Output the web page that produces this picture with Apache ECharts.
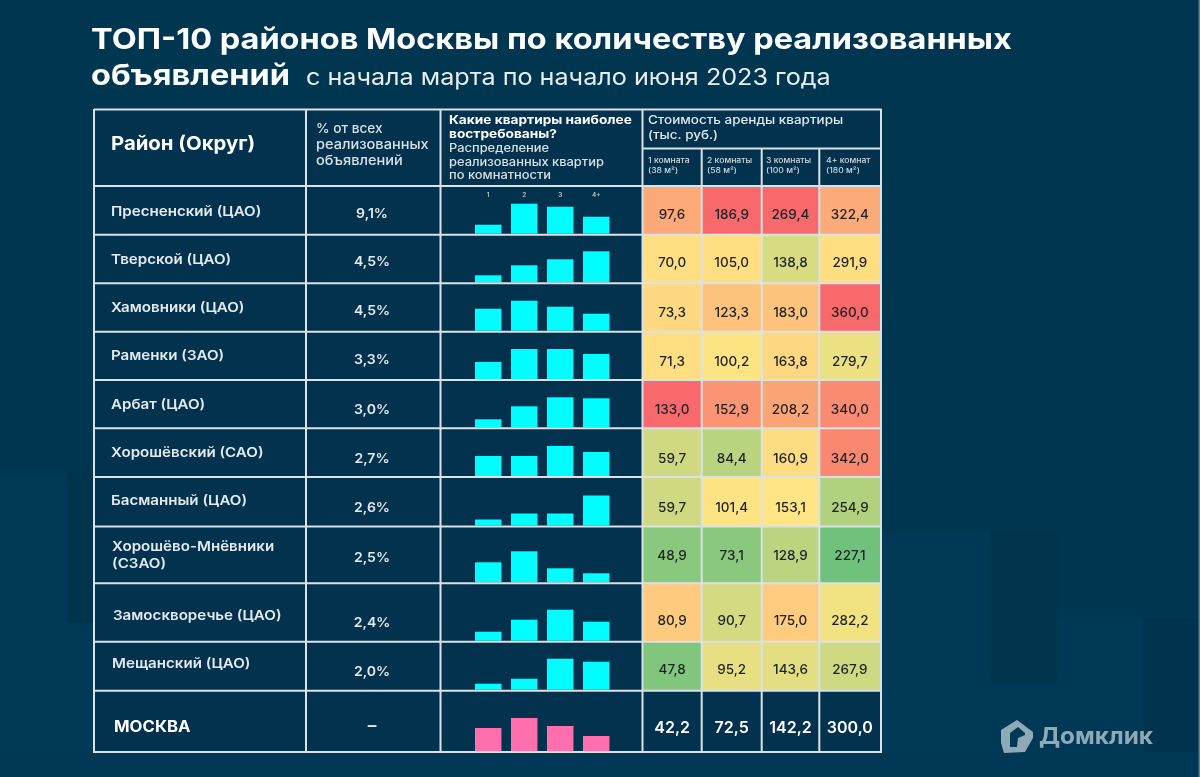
<!DOCTYPE html>
<html>
<head>
<meta charset="utf-8">
<title>ТОП-10 районов Москвы</title>
<script src="https://cdn.jsdelivr.net/npm/echarts@6/dist/echarts.min.js"></script>
<style>
html, body { margin: 0; padding: 0; background: #00364f; }
#main { width: 1200px; height: 777px; }
</style>
</head>
<body>
<div id="main"></div>
<script>
// ---------data
var districts = ['Пресненский (ЦАО)', 'Тверской (ЦАО)', 'Хамовники (ЦАО)', 'Раменки (ЗАО)', 'Арбат (ЦАО)', 'Хорошёвский (САО)', 'Басманный (ЦАО)', 'Хорошёво-Мнёвники\n(СЗАО)', 'Замоскворечье (ЦАО)', 'Мещанский (ЦАО)', 'МОСКВА'];
var shareOfAds = ['9,1%', '4,5%', '4,5%', '3,3%', '3,0%', '2,7%', '2,6%', '2,5%', '2,4%', '2,0%', '–'];
var roomLabels = ['1', '2', '3', '4+'];
var roomsOne = [9, 7, 22, 17, 8, 20, 6, 20, 9, 6, 23];
var roomsTwo = [30, 17, 30, 30, 21, 20, 12, 31, 21, 11, 33];
var roomsThree = [27, 23, 24, 30, 30, 30, 12, 14, 31, 31, 25];
var roomsFour = [17, 31, 17, 25, 29, 24, 30, 9, 19, 28, 15];
var rentOne = [97.6, 70.0, 73.3, 71.3, 133.0, 59.7, 59.7, 48.9, 80.9, 47.8, 42.2];
var rentTwo = [186.9, 105.0, 123.3, 100.2, 152.9, 84.4, 101.4, 73.1, 90.7, 95.2, 72.5];
var rentThree = [269.4, 138.8, 183.0, 163.8, 208.2, 160.9, 153.1, 128.9, 175.0, 143.6, 142.2];
var rentFour = [322.4, 291.9, 360.0, 279.7, 340.0, 342.0, 254.9, 227.1, 282.2, 267.9, 300.0];

var rooms = [roomsOne, roomsTwo, roomsThree, roomsFour];
var rents = [rentOne, rentTwo, rentThree, rentFour];

// ---------color scale of every rent column: green at, yellow at, red at
var rentScale = [[43, 67, 130], [64, 101, 180], [98, 153, 260], [222, 288, 360]];
var scaleGreen = [99, 190, 123], scaleYellow = [255, 229, 131], scaleRed = [248, 105, 107];

function rentColor(col, v) {
    var s = rentScale[col];
    var a, b, t;
    if (v <= s[1]) {
        a = scaleGreen; b = scaleYellow;
        t = Math.max(0, (v - s[0]) / (s[1] - s[0]));
    } else {
        a = scaleYellow; b = scaleRed;
        t = Math.min(1, (v - s[1]) / (s[2] - s[1]));
    }
    return 'rgb(' + Math.round(a[0] + (b[0] - a[0]) * t) + ',' + Math.round(a[1] + (b[1] - a[1]) * t) + ',' + Math.round(a[2] + (b[2] - a[2]) * t) + ')';
}

// ---------table layout, px
var rowLines = [186, 234.7, 283.3, 331.7, 380, 428.3, 477, 526.5, 583.3, 641.7, 690.7, 752];
var colLines = [642.5, 701.7, 761.7, 819.3, 880.5];
var nameY = [212, 260, 308, 356, 405, 453, 501, 547, 616, 664, 727];
var nameX = [111, 111, 111, 111, 111, 111, 111, 112, 113, 112, 114];
var shareY = [214.5, 262.5, 311.5, 360.5, 410.5, 459.5, 508.5, 558.5, 623.5, 672.5, 726];
var rentY = [215, 263, 313, 362, 410, 459, 508, 556, 621, 670, 728.5];
var textFont = 'Inter';
var textScale = 1.12; // Inter is narrower than the font of the picture
var tableBg = '#02324e', lineColor = '#dbe2e7';

var graphics = [];

function addRect(x, y, w, h, color, z) {
    graphics.push({ type: 'rect', z: z || 0, silent: true, shape: { x: x, y: y, width: w, height: h }, style: { fill: color } });
}

function addLine(x1, y1, x2, y2, width) {
    graphics.push({ type: 'line', z: 50, silent: true, shape: { x1: x1, y1: y1, x2: x2, y2: y2 }, style: { stroke: lineColor, lineWidth: width || 2 } });
}

function addText(x, y, text, size, weight, color, align, sx) {
    graphics.push({
        type: 'text', z: 60, silent: true, x: x, y: y, scaleX: sx || textScale,
        style: { text: text, fill: color, font: weight + ' ' + size + 'px ' + textFont, textAlign: align || 'left', textVerticalAlign: 'middle', lineHeight: size * 1.2 }
    });
}

// ---------background shapes
addRect(880, 533, 110, 244, '#003956');
addRect(1058, 618, 85, 159, '#003956');
addRect(990, 533, 68, 150, '#00354e');
addRect(990, 683, 68, 94, '#003956');
addRect(1143, 618, 57, 147, '#00344e');
addRect(0, 473, 67, 304, '#003956');
addRect(67, 473, 27, 150, '#00334c');
addRect(67, 623, 27, 154, '#003956');
addRect(0, 752, 1200, 25, '#003855');
addRect(1198.5, 0, 1.5, 777, '#5f7f90');

// ---------table
addRect(94, 110, 786.5, 642, tableBg);
var i, j;
addLine(94, 109.5, 881.5, 109.5, 2);
addLine(94, 752, 881.5, 752, 2);
addLine(94, 109, 94, 753, 2);
addLine(881, 109, 881, 753, 2);
addLine(306, 109, 306, 753, 2);
addLine(440.5, 109, 440.5, 753, 2);
addLine(642.5, 109, 642.5, 753, 2);
addLine(642.5, 148.5, 881, 148.5, 2);
for (i = 0; i < rowLines.length - 1; i++) {
    addLine(94, rowLines[i], 881, rowLines[i], 2);
}
for (j = 1; j < colLines.length - 1; j++) {
    addLine(colLines[j], 148.5, colLines[j], 753, 2);
}

// ---------titles
addText(91, 40, 'ТОП-10 районов Москвы по количеству реализованных', 29, 'bold', '#ffffff');
addText(91, 76.5, 'объявлений', 29, 'bold', '#ffffff');
addText(306, 78.5, 'с начала марта по начало июня 2023 года', 23, 'normal', '#e8edf0', 'left', 1.094);

// ---------table header
addText(111, 144, 'Район (Округ)', 19, 'bold', '#ffffff', 'left', 1.07);
addText(316, 129, '% от всех', 13, '500', '#d9e1e6', 'left', 1.05);
addText(316, 145, 'реализованных', 13, '500', '#d9e1e6');
addText(316, 161, 'объявлений', 13, '500', '#d9e1e6');
addText(449, 120, 'Какие квартиры наиболее', 12, 'bold', '#ffffff', 'left', 1.14);
addText(449, 134, 'востребованы?', 12, 'bold', '#ffffff', 'left', 1.14);
addText(449, 149, 'Распределение', 11.5, '500', '#d9e1e6');
addText(449, 163, 'реализованных квартир', 11.5, '500', '#d9e1e6');
addText(449, 176, 'по комнатности', 11.5, '500', '#d9e1e6');
addText(648, 120, 'Стоимость аренды квартиры', 12, '500', '#e3e9ed');
addText(648, 135, '(тыс. руб.)', 12, '500', '#e3e9ed');
var rentHeads = [['1 комната', '(38 м²)'], ['2 комнаты', '(58 м²)'], ['3 комнаты', '(100 м²)'], ['4+ комнат', '(180 м²)']];
var rentHeadX = [648, 707, 766, 826];
for (j = 0; j < 4; j++) {
    addText(rentHeadX[j], 161, rentHeads[j][0], 7.5, '500', '#cfd9df', 'left', 1.15);
    addText(rentHeadX[j], 171, rentHeads[j][1], 7.5, '500', '#cfd9df', 'left', 1.15);
}

// ---------row names and shares
for (i = 0; i < districts.length; i++) {
    if (i == districts.length - 1) {
        addText(nameX[i], nameY[i], districts[i], 15.5, 'bold', '#ffffff', 'left', 1.08);
        addText(372, shareY[i], shareOfAds[i], 16, 'bold', '#e3e9ed', 'center', 1.08);
    } else {
        if (districts[i].indexOf('\n') >= 0) {
            addText(nameX[i], nameY[i], districts[i].split('\n')[0], 13.5, '600', '#e3e9ed');
            addText(nameX[i], nameY[i] + 17, districts[i].split('\n')[1], 13.5, '600', '#e3e9ed');
        } else {
            addText(nameX[i], nameY[i], districts[i], 13.5, '600', '#e3e9ed');
        }
        addText(372, shareY[i], shareOfAds[i], 13, '600', '#e3e9ed', 'center', 1.08);
    }
}

// ---------logo
graphics.push({
    type: 'polygon', z: 60, silent: true,
    shape: { points: [[1017, 720], [1033, 732], [1033, 738], [1025, 752], [1004, 753], [1001, 743], [1001, 730]] },
    style: { fill: '#8fa9b7' }
});
graphics.push({
    type: 'polygon', z: 61, silent: true,
    shape: { points: [[1010, 733], [1010, 747], [1017, 747], [1018, 738], [1025, 735], [1025, 733], [1018, 727]] },
    style: { fill: '#003956' }
});
addText(1039, 737, 'Домклик', 23.5, 'bold', '#8fa9b7', 'left', 1.035);

// ---------series
var grids = [], xAxes = [], yAxes = [], series = [];

function addGrid(gridLeft, gridTop, gridWidth, gridHeight) {
    grids.push({ left: gridLeft, top: gridTop, width: gridWidth, height: gridHeight });
    return grids.length - 1;
}

// bars of every row, 1px is 1 unit
var barMax = 34;
for (i = 0; i < districts.length; i++) {
    var barGrid = addGrid(470.2, rowLines[i + 1] - 1 - barMax, 144, barMax);
    xAxes.push({
        gridIndex: barGrid, type: 'category', position: 'top', data: roomLabels,
        axisLine: { show: false }, axisTick: { show: false },
        axisLabel: { show: i == 0, margin: 1, fontSize: 6.5, fontFamily: textFont, color: '#cfd9df', fontWeight: 500 }
    });
    yAxes.push({ gridIndex: barGrid, type: 'value', min: 0, max: barMax, show: false });
    var barData = [];
    for (j = 0; j < 4; j++) {
        barData.push(rooms[j][i]);
    }
    series.push({
        type: 'bar', xAxisIndex: barGrid, yAxisIndex: barGrid, data: barData, barWidth: 26.5, silent: true,
        itemStyle: { color: i == districts.length - 1 ? '#ff6fae' : '#00fdff' }
    });
}

// rent cells, every cell has own grid because rows and columns are not even
function rentLabel(p) {
    return p.value[2].toFixed(1).replace('.', ',');
}
for (i = 0; i < districts.length; i++) {
    for (j = 0; j < 4; j++) {
        var cellTop = rowLines[i], cellH = rowLines[i + 1] - rowLines[i];
        var isCity = i == districts.length - 1;
        var cellGrid = addGrid(colLines[j], cellTop, colLines[j + 1] - colLines[j], cellH);
        xAxes.push({ gridIndex: cellGrid, type: 'category', data: ['room'], show: false });
        yAxes.push({ gridIndex: cellGrid, type: 'category', data: ['row'], show: false });
        series.push({
            type: 'heatmap', xAxisIndex: cellGrid, yAxisIndex: cellGrid, silent: true,
            data: [{
                value: [0, 0, rents[j][i]],
                itemStyle: { color: isCity ? tableBg : rentColor(j, rents[j][i]) }
            }],
            label: {
                show: true,
                offset: [0, rentY[i] - (cellTop + cellH / 2)],
                fontFamily: textFont,
                fontWeight: isCity ? 600 : 500,
                fontSize: isCity ? 16 : 13.5,
                color: isCity ? '#ffffff' : '#1e2326',
                formatter: rentLabel
            }
        });
    }
}

var myChart = echarts.init(document.getElementById('main'));
myChart.setOption({
    backgroundColor: '#00364f',
    animation: false,
    tooltip: { show: false },
    graphic: { elements: graphics },
    grid: grids,
    xAxis: xAxes,
    yAxis: yAxes,
    series: series
});
</script>
</body>
</html>
